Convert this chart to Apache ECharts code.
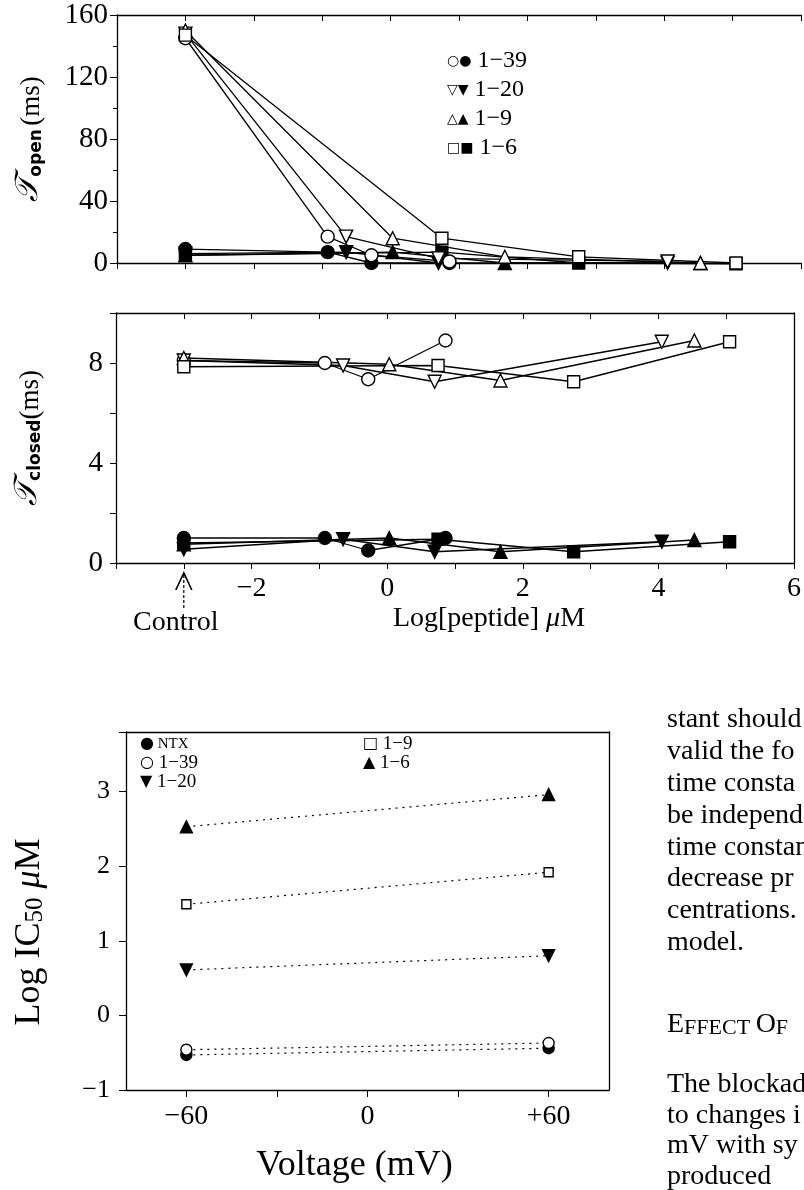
<!DOCTYPE html>
<html>
<head>
<meta charset="utf-8">
<script src="https://cdn.jsdelivr.net/npm/echarts@6.0.0/dist/echarts.min.js"></script>
<style>
html, body { margin: 0; padding: 0; background: #fff; }
#chart { width: 804px; height: 1190px; }
</style>
</head>
<body>
<div id="chart"></div>
<script>
// log[peptide] (uM) for each peptide, control is drawn at -3
const x139 = [-3, -0.92, -0.28, 0.86]
const x120 = [-3, -0.65, 0.7, 4.05]
const x19 = [-3, 0.03, 1.67, 4.53]
const x16 = [-3, 0.75, 2.75, 5.05]

// tau open (ms): slow component (open symbols), fast component (filled symbols)
const openSlow139 = [145, 17, 5, 1]
const openSlow120 = [148, 17, 3, 1]
const openSlow19 = [150, 16, 4, 0]
const openSlow16 = [147, 16, 4, 0]
const openFast139 = [9, 7, 0, 0]
const openFast120 = [6, 7, 0, 0]
const openFast19 = [5, 7, 0, 0]
const openFast16 = [5, 7, 0, -0.5]

// tau closed (ms)
const closedSlow139 = [8.1, 8.0, 7.35, 8.9]
const closedSlow120 = [8.1, 7.9, 7.25, 8.85]
const closedSlow19 = [8.2, 7.95, 7.3, 8.9]
const closedSlow16 = [7.85, 7.9, 7.25, 8.85]
const closedFast139 = [1.0, 1.0, 0.5, 1.0]
const closedFast120 = [0.55, 0.95, 0.45, 0.85]
const closedFast19 = [0.75, 1.0, 0.45, 0.92]
const closedFast16 = [0.8, 0.95, 0.45, 0.85]

// log IC50 (uM) against holding voltage (mV)
const voltages = [-60, 60]
const ic50NTX = [-0.53, -0.44]
const ic50_139 = [-0.46, -0.37]
const ic50_120 = [0.61, 0.8]
const ic50_19 = [1.49, 1.92]
const ic50_16 = [2.53, 2.96]

const voltTicks = [-60, -30, 0, 30, 60]
const voltLabels = [-60, 0, 60]

// text of the page column cut by the right edge
const pageLines = ['stant should', 'valid the fo', 'time consta', 'be independ', 'time constan',
  'decrease pr', 'centrations.', 'model.']
const pageLines2 = ['The blockad', 'to changes i', 'mV with sy', 'produced']

const serif = 'Liberation Serif'
const minus = v => String(v).replace('-', '\u2212')

function mk(xs, ys, shape, filled, xi, yi, size, dotted) {
  return {
    type: 'line',
    xAxisIndex: xi,
    yAxisIndex: yi,
    data: xs.map((x, i) => [x, ys[i]]),
    symbol: shape === 'down' ? 'triangle' : shape,
    symbolRotate: shape === 'down' ? 180 : 0,
    symbolSize: size,
    showAllSymbol: true,
    clip: false,
    lineStyle: { color: '#000', width: dotted ? 1.2 : 1.3, type: dotted ? [2, 5] : 'solid' },
    itemStyle: { color: filled ? '#000' : '#fff', borderColor: '#000', borderWidth: 1.4 },
    emphasis: { disabled: true },
    z: filled ? 3 : 4
  }
}

const lineOnly = { show: true, onZero: false, lineStyle: { color: '#000', width: 1.3 } }

const chart = echarts.init(document.getElementById('chart'))
chart.setOption({
  animation: false,
  backgroundColor: '#fff',
  grid: [
    { left: 117, right: 3, top: 15, bottom: 927 },
    { left: 116, right: 4, top: 313, bottom: 627 },
    { left: 126, right: 195, top: 732, bottom: 100 }
  ],
  xAxis: [
    {
      gridIndex: 0, type: 'value', min: -4, max: 6, interval: 1, position: 'bottom',
      axisLine: lineOnly,
      axisTick: { show: true, length: 6, lineStyle: { color: '#000' } },
      axisLabel: { show: false }, splitLine: { show: false }
    },
    {
      gridIndex: 0, type: 'value', min: -4, max: 6, interval: 1, position: 'top',
      axisLine: lineOnly,
      axisTick: { show: true, inside: true, length: 6, lineStyle: { color: '#000' } },
      axisLabel: { show: false }, splitLine: { show: false }
    },
    {
      gridIndex: 1, type: 'value', min: -4, max: 6, interval: 1, position: 'bottom',
      axisLine: lineOnly,
      axisTick: { show: true, length: 6, lineStyle: { color: '#000' } },
      axisLabel: {
        margin: 12, color: '#000', fontFamily: serif, fontSize: 28, showMaxLabel: true,
        formatter: v => (v % 2 === 0 && v > -4) ? minus(v) : ''
      },
      splitLine: { show: false },
      name: 'Log[peptide] {m|\u03bc}M', nameLocation: 'middle', nameGap: 42,
      nameTextStyle: {
        color: '#000', fontFamily: serif, fontSize: 28, padding: [0, 0, 0, 68],
        rich: { m: { fontFamily: serif, fontSize: 28, fontStyle: 'italic', color: '#000' } }
      }
    },
    {
      gridIndex: 1, type: 'value', min: -4, max: 6, interval: 1, position: 'top',
      axisLine: lineOnly,
      axisTick: { show: true, inside: true, length: 6, lineStyle: { color: '#000' } },
      axisLabel: { show: false }, splitLine: { show: false }
    },
    {
      gridIndex: 2, type: 'value', min: -80, max: 80, position: 'bottom',
      axisLine: lineOnly,
      axisTick: { show: true, length: 7, customValues: voltTicks, lineStyle: { color: '#000' } },
      axisLabel: {
        customValues: voltLabels, margin: 13, color: '#000', fontFamily: serif, fontSize: 28,
        formatter: v => v > 0 ? '+' + v : minus(v)
      },
      splitLine: { show: false },
      name: 'Voltage (mV)', nameLocation: 'middle', nameGap: 58,
      nameTextStyle: { color: '#000', fontFamily: serif, fontSize: 36, padding: [0, 26, 0, 0] }
    },
    {
      gridIndex: 2, type: 'value', min: -80, max: 80, position: 'top',
      axisLine: lineOnly, axisTick: { show: false }, axisLabel: { show: false }, splitLine: { show: false }
    }
  ],
  yAxis: [
    {
      gridIndex: 0, type: 'value', min: 0, max: 160, interval: 40,
      axisLine: lineOnly,
      axisTick: { show: true, length: 7, lineStyle: { color: '#000' } },
      minorTick: { show: true, splitNumber: 2, length: 4, lineStyle: { color: '#000' } },
      axisLabel: { margin: 9, color: '#000', fontFamily: serif, fontSize: 29 },
      splitLine: { show: false },
      name: '{t|\ud835\udcaf}{s|open} {n|(ms)}', nameLocation: 'middle', nameRotate: 90, nameGap: 72,
      nameTextStyle: {
        rich: {
          t: { fontFamily: 'DejaVu Serif', fontSize: 32, fontStyle: 'italic', color: '#000', verticalAlign: 'bottom', lineHeight: 36 },
          s: { fontFamily: 'DejaVu Sans', fontSize: 17, fontWeight: 'bold', color: '#000', verticalAlign: 'bottom', lineHeight: 26 },
          n: { fontFamily: serif, fontSize: 27, color: '#000', verticalAlign: 'bottom', lineHeight: 36 }
        }
      }
    },
    {
      gridIndex: 1, type: 'value', min: 0, max: 10, interval: 2,
      axisLine: lineOnly,
      axisTick: { show: true, length: 6, lineStyle: { color: '#000' } },
      axisLabel: {
        margin: 13, color: '#000', fontFamily: serif, fontSize: 29,
        formatter: v => v % 4 === 0 && v < 10 ? String(v) : ''
      },
      splitLine: { show: false },
      name: '{t|\ud835\udcaf}{s|closed}{n|(ms)}', nameLocation: 'middle', nameRotate: 90, nameGap: 72,
      nameTextStyle: {
        rich: {
          t: { fontFamily: 'DejaVu Serif', fontSize: 32, fontStyle: 'italic', color: '#000', verticalAlign: 'bottom', lineHeight: 36 },
          s: { fontFamily: 'DejaVu Sans', fontSize: 17, fontWeight: 'bold', color: '#000', verticalAlign: 'bottom', lineHeight: 26 },
          n: { fontFamily: serif, fontSize: 27, color: '#000', verticalAlign: 'bottom', lineHeight: 36 }
        }
      }
    },
    {
      gridIndex: 1, type: 'value', min: 0, max: 10, position: 'right',
      axisLine: lineOnly, axisTick: { show: false }, axisLabel: { show: false }, splitLine: { show: false }
    },
    {
      gridIndex: 2, type: 'value', min: -1, max: 3.8, interval: 1,
      axisLine: lineOnly,
      axisTick: { show: true, length: 7, lineStyle: { color: '#000' } },
      axisLabel: {
        margin: 16, color: '#000', fontFamily: serif, fontSize: 26,
        formatter: v => Number.isInteger(v) ? minus(v) : ''
      },
      splitLine: { show: false },
      name: 'Log IC{s|50} {m|\u03bc}M', nameLocation: 'middle', nameRotate: 90, nameGap: 78,
      nameTextStyle: {
        color: '#000', fontFamily: serif, fontSize: 36, padding: [0, 42, 0, 0],
        rich: {
          s: { fontFamily: serif, fontSize: 25, color: '#000', verticalAlign: 'bottom', lineHeight: 30 },
          m: { fontFamily: serif, fontSize: 36, fontStyle: 'italic', color: '#000' }
        }
      }
    },
    {
      gridIndex: 2, type: 'value', min: -1, max: 3.8, position: 'right',
      axisLine: lineOnly, axisTick: { show: false }, axisLabel: { show: false }, splitLine: { show: false }
    }
  ],
  series: [
    // tau open
    mk(x139, openFast139, 'circle', true, 0, 0, 13),
    mk(x120, openFast120, 'down', true, 0, 0, 13),
    mk(x19, openFast19, 'triangle', true, 0, 0, 13),
    mk(x16, openFast16, 'rect', true, 0, 0, 12),
    mk(x139, openSlow139, 'circle', false, 0, 0, 13),
    mk(x120, openSlow120, 'down', false, 0, 0, 13),
    mk(x19, openSlow19, 'triangle', false, 0, 0, 13),
    mk(x16, openSlow16, 'rect', false, 0, 0, 12),
    // tau closed
    mk(x139, closedFast139, 'circle', true, 2, 1, 13),
    mk(x120, closedFast120, 'down', true, 2, 1, 13),
    mk(x19, closedFast19, 'triangle', true, 2, 1, 13),
    mk(x16, closedFast16, 'rect', true, 2, 1, 12),
    mk(x139, closedSlow139, 'circle', false, 2, 1, 13),
    mk(x120, closedSlow120, 'down', false, 2, 1, 13),
    mk(x19, closedSlow19, 'triangle', false, 2, 1, 13),
    mk(x16, closedSlow16, 'rect', false, 2, 1, 12),
    // IC50 vs voltage
    mk(voltages, ic50_139, 'circle', false, 4, 3, 11, true),
    mk(voltages, ic50NTX, 'circle', true, 4, 3, 11, true),
    mk(voltages, ic50_120, 'down', true, 4, 3, 12, true),
    mk(voltages, ic50_19, 'rect', false, 4, 3, 9, true),
    mk(voltages, ic50_16, 'triangle', true, 4, 3, 12, true)
  ]
})

// annotations placed from the axes
const ctl = chart.convertToPixel({ xAxisIndex: 2, yAxisIndex: 1 }, [-3, 0])
const gfx = [
  { type: 'polyline', shape: { points: [[ctl[0] - 8, ctl[1] + 27], [ctl[0], ctl[1] + 10], [ctl[0] + 8, ctl[1] + 27]] }, style: { stroke: '#000', lineWidth: 1.6, fill: null } },
  { type: 'line', shape: { x1: ctl[0], y1: ctl[1] + 12, x2: ctl[0], y2: ctl[1] + 47 }, style: { stroke: '#000', lineWidth: 1.2, lineDash: [3, 2] } },
  { type: 'text', style: { text: 'Control', x: ctl[0] - 8, y: ctl[1] + 60, align: 'center', verticalAlign: 'middle', font: '28px "Liberation Serif"', fill: '#000' } }
]

const legTop = [['\u25cb\u25cf', '1\u221239'], ['\u25bd\u25bc', '1\u221220'], ['\u25b3\u25b2', '1\u22129'], ['\u25a1\u25a0', '1\u22126']]
legTop.forEach((row, i) => {
  gfx.push({
    type: 'text',
    style: {
      text: '{m|' + row[0] + '} ' + row[1], x: 447, y: 61 + i * 29, verticalAlign: 'middle',
      font: '24px "Liberation Serif"', fill: '#000',
      rich: { m: { font: '14px "DejaVu Sans"', fill: '#000' } }
    }
  })
})

const legBottom = [['\u25cf', 'NTX', 140, 744], ['\u25cb', '1\u221239', 140, 763], ['\u25bc', '1\u221220', 140, 782],
  ['\u25a1', '1\u22129', 363, 744], ['\u25b2', '1\u22126', 363, 763]]
legBottom.forEach(row => {
  gfx.push({
    type: 'text',
    style: {
      text: '{m|' + row[0] + '} ' + row[1], x: row[2], y: row[3], verticalAlign: 'middle',
      font: (row[1] === 'NTX' ? '15px' : '19px') + ' "Liberation Serif"', fill: '#000',
      rich: { m: { font: '16px "DejaVu Sans"', fill: '#000' } }
    }
  })
})

pageLines.forEach((t, i) => {
  gfx.push({ type: 'text', style: { text: t, x: 667, y: 720 + i * 31.8, verticalAlign: 'middle', font: '28px "Liberation Serif"', fill: '#000' } })
})
gfx.push({
  type: 'text',
  style: {
    text: '{a|E}{b|FFECT }{a|O}{b|F}', x: 667, y: 1025, verticalAlign: 'middle', fill: '#000',
    rich: { a: { font: '28px "Liberation Serif"', verticalAlign: 'bottom' }, b: { font: '22px "Liberation Serif"', verticalAlign: 'bottom' } }
  }
})
pageLines2.forEach((t, i) => {
  gfx.push({ type: 'text', style: { text: t, x: 667, y: 1085 + i * 30.5, verticalAlign: 'middle', font: '28px "Liberation Serif"', fill: '#000' } })
})

chart.setOption({ graphic: gfx })
</script>
</body>
</html>
